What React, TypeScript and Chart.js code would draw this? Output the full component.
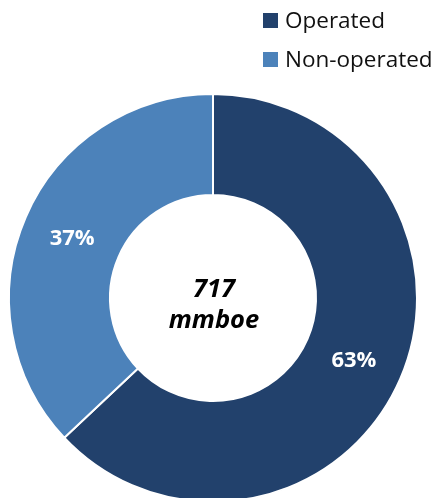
import React, { useEffect, useRef } from "react";
import { Chart, registerables } from "chart.js";

Chart.register(...registerables);

const categories = ["Operated", "Non-operated"];
const shares = [63, 37];
const colors = ["#22416C", "#4C82BA"];
const centerLines = ["717", "mmboe"];

const FONT = "'Open Sans', 'Noto Sans', sans-serif";

const overlayPlugin = {
  id: "overlay",
  afterDatasetsDraw(chart: any) {
    const ctx = chart.ctx;
    const meta = chart.getDatasetMeta(0);
    ctx.save();
    // slice labels
    ctx.fillStyle = "#ffffff";
    ctx.font = `bold 22px ${FONT}`;
    ctx.textAlign = "center";
    ctx.textBaseline = "middle";
    meta.data.forEach((arc: any, i: number) => {
      const p = arc.tooltipPosition();
      ctx.fillText(`${shares[i]}%`, p.x, p.y + 2);
    });
    // centre text
    const arc0 = meta.data[0];
    const cx = arc0.x;
    const cy = arc0.y;
    ctx.fillStyle = "#000000";
    ctx.font = `italic bold 25.5px ${FONT}`;
    ctx.textBaseline = "alphabetic";
    ctx.fillText(centerLines[0], cx + 1, cy - 1);
    ctx.fillText(centerLines[1], cx + 1, cy + 30);
    // legend
    ctx.textAlign = "left";
    ctx.font = `22.5px ${FONT}`;
    categories.forEach((c, i) => {
      const top = 13 + i * 39;
      ctx.fillStyle = colors[i];
      ctx.fillRect(263, top, 15, 15);
      ctx.fillStyle = "#111111";
      ctx.fillText(c, 285, top + 15);
    });
    ctx.restore();
  },
};

export default function App() {
  const ref = useRef<HTMLCanvasElement>(null);
  useEffect(() => {
    if (!ref.current) return;
    const chart = new Chart(ref.current, {
      type: "doughnut",
      data: {
        labels: categories,
        datasets: [
          {
            data: shares,
            backgroundColor: colors,
            borderColor: "#ffffff",
            borderWidth: 2,
            hoverOffset: 0,
          },
        ],
      },
      options: {
        responsive: false,
        animation: false,
        radius: 204,
        cutout: 102,
        rotation: 0,
        layout: { padding: { left: 10, right: 22, top: 95, bottom: 19 } },
        plugins: {
          legend: { display: false },
          tooltip: { enabled: false },
        },
      },
      plugins: [overlayPlugin],
    });
    return () => chart.destroy();
  }, []);
  return (
    <div
      style={{
        position: "absolute",
        left: 0,
        top: 0,
        width: 438,
        height: 498,
        overflow: "hidden",
        background: "#ffffff",
      }}
    >
      <canvas ref={ref} width={438} height={520} style={{ display: "block", width: 438, height: 520 }} />
    </div>
  );
}
